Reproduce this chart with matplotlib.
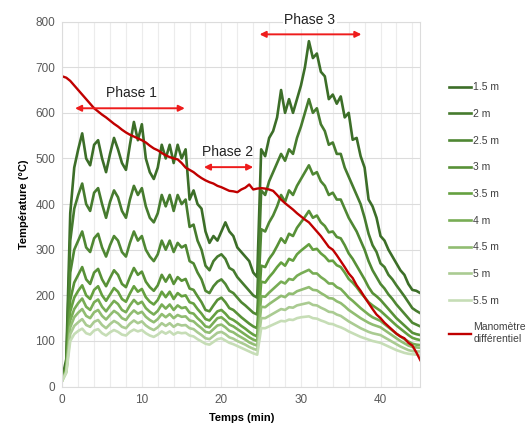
import numpy as np
import matplotlib.pyplot as plt
from matplotlib.ticker import MultipleLocator

plt.rcParams['font.family'] = ['Liberation Sans', 'DejaVu Sans']

# sampling grid of the readings (minutes)
time_min = np.arange(0, 45.5, 0.5)

# temperatures, one value every 0.5 min
temp_1_5m = [20, 60, 380, 480, 520, 555, 500, 485, 530, 540,
             500, 470, 510, 545, 520, 490, 475, 530, 580, 540,
             575, 500, 470, 455, 480, 530, 500, 530, 490, 530,
             500, 520, 410, 430, 400, 390, 340, 315, 330, 320,
             340, 360, 340, 330, 305, 295, 285, 275, 250, 240,
             520, 505, 545, 560, 590, 650, 600, 630, 600, 630,
             660, 700, 757, 720, 730, 690, 680, 630, 640, 620,
             636, 590, 600, 541, 545, 505, 480, 410, 395, 370,
             330, 320, 300, 285, 270, 255, 245, 225, 212, 210,
             205]
temp_2m = [18, 50, 320, 390, 420, 445, 400, 385, 425, 435,
           400, 370, 405, 430, 415, 385, 370, 410, 440, 420,
           435, 395, 370, 360, 380, 420, 395, 420, 385, 420,
           400, 410, 350, 355, 320, 300, 265, 255, 275, 285,
           290, 280, 260, 255, 240, 230, 220, 210, 200, 195,
           430, 420, 450, 470, 490, 510, 495, 520, 510, 545,
           570, 600, 630, 600, 610, 575, 560, 530, 535, 510,
           510, 480, 460, 440, 420, 400, 370, 335, 310, 295,
           270, 262, 245, 235, 222, 210, 198, 185, 172, 166,
           161]
temp_2_5m = [17, 45, 250, 300, 320, 340, 305, 295, 325, 335,
             305, 285, 310, 330, 320, 295, 285, 315, 340, 320,
             330, 300, 285, 275, 290, 320, 300, 320, 295, 315,
             305, 310, 275, 270, 250, 235, 210, 205, 220, 230,
             235, 225, 210, 205, 195, 185, 178, 170, 162, 158,
             345, 340, 360, 375, 395, 420, 405, 430, 420, 440,
             455, 470, 485, 465, 470, 450, 440, 420, 425, 410,
             410, 390, 370, 355, 340, 320, 300, 275, 255, 240,
             225, 215, 202, 192, 180, 170, 160, 150, 140, 136,
             132]
temp_3m = [16, 40, 190, 228, 245, 262, 235, 225, 250, 258,
           235, 220, 238, 255, 245, 225, 218, 240, 260, 245,
           252, 230, 218, 210, 222, 245, 230, 245, 225, 240,
           232, 236, 215, 212, 198, 185, 168, 165, 178, 190,
           195, 185, 172, 168, 160, 152, 145, 138, 132, 128,
           265, 262, 280, 292, 308, 325, 315, 335, 330, 348,
           360, 372, 385, 370, 375, 360, 352, 338, 340, 328,
           325, 310, 292, 280, 265, 250, 235, 218, 205, 198,
           190, 180, 170, 160, 150, 142, 134, 126, 118, 115,
           113]
temp_3_5m = [15, 38, 165, 195, 210, 222, 200, 192, 212, 220,
             200, 188, 202, 216, 208, 192, 186, 204, 220, 208,
             214, 196, 186, 180, 190, 208, 196, 208, 192, 205,
             198, 200, 185, 182, 170, 160, 148, 145, 155, 165,
             168, 160, 150, 146, 140, 133, 127, 120, 114, 110,
             230, 228, 240, 250, 262, 272, 265, 280, 276, 290,
             298, 305, 312, 300, 302, 292, 285, 275, 276, 266,
             262, 250, 236, 228, 218, 206, 196, 185, 178, 172,
             166, 158, 150, 142, 134, 127, 120, 113, 107, 104,
             102]
temp_4m = [15, 36, 145, 170, 183, 193, 175, 168, 185, 191,
           175, 165, 177, 188, 181, 168, 163, 178, 190, 181,
           186, 172, 164, 158, 166, 180, 171, 180, 168, 178,
           172, 174, 162, 160, 150, 142, 132, 130, 140, 150,
           152, 145, 136, 132, 126, 120, 114, 108, 103, 100,
           198, 197, 206, 214, 222, 230, 226, 236, 234, 243,
           248, 252, 256, 248, 248, 240, 234, 226, 226, 218,
           214, 205, 195, 188, 180, 172, 165, 158, 152, 148,
           144, 137, 130, 123, 116, 110, 104, 99, 94, 92,
           91]
temp_4_5m = [14, 34, 130, 152, 162, 170, 155, 150, 163, 168,
             155, 147, 157, 166, 160, 150, 146, 158, 167, 160,
             164, 153, 146, 141, 148, 159, 152, 159, 150, 157,
             153, 154, 145, 143, 135, 128, 120, 118, 126, 134,
             136, 130, 122, 119, 113, 108, 103, 97, 93, 90,
             175, 174, 181, 187, 193, 199, 196, 204, 203, 209,
             212, 215, 218, 212, 211, 205, 200, 194, 193, 187,
             183, 176, 168, 162, 156, 150, 145, 140, 136, 133,
             130, 124, 118, 112, 106, 100, 95, 90, 87, 86,
             85]
temp_5m = [14, 32, 115, 133, 141, 148, 135, 131, 142, 146,
           135, 128, 137, 144, 139, 131, 128, 138, 145, 139,
           143, 134, 128, 124, 130, 139, 133, 139, 131, 137,
           134, 135, 128, 126, 119, 113, 106, 104, 111, 118,
           120, 115, 108, 105, 100, 96, 92, 87, 83, 80,
           150, 150, 155, 160, 165, 170, 168, 174, 173, 178,
           180, 182, 184, 179, 178, 173, 169, 164, 163, 158,
           155, 149, 143, 138, 133, 128, 124, 120, 117, 115,
           113, 108, 103, 98, 93, 88, 84, 80, 78, 77,
           77]
temp_5_5m = [13, 30, 100, 115, 122, 127, 117, 114, 123, 126,
             117, 112, 119, 124, 120, 114, 112, 120, 125, 121,
             124, 117, 112, 109, 114, 121, 116, 121, 114, 119,
             117, 118, 112, 110, 104, 99, 94, 92, 98, 104,
             106, 101, 96, 93, 89, 85, 81, 77, 73, 70,
             128, 128, 132, 136, 140, 144, 143, 147, 146, 150,
             152, 153, 154, 150, 149, 145, 142, 138, 137, 133,
             130, 126, 121, 117, 113, 109, 106, 103, 100, 98,
             96, 92, 88, 84, 80, 77, 74, 72, 71, 70,
             70]
manometre = [680, 677, 670, 660, 650, 640, 630, 620, 610, 603,
             596, 590, 583, 576, 570, 563, 557, 552, 548, 544,
             540, 535, 528, 522, 518, 512, 507, 503, 500, 498,
             490, 480, 475, 470, 463, 457, 452, 448, 445, 440,
             437, 433, 429, 428, 426, 432, 436, 443, 432, 434,
             435, 434, 432, 429, 420, 410, 402, 395, 388, 380,
             373, 366, 360, 350, 340, 330, 318, 306, 300, 288,
             275, 262, 248, 238, 222, 210, 196, 183, 170, 158,
             150, 140, 132, 124, 116, 110, 106, 96, 90, 75,
             58]

depth_labels = ['1.5 m', '2 m', '2.5 m', '3 m', '3.5 m', '4 m', '4.5 m', '5 m', '5.5 m']
depth_series = [temp_1_5m, temp_2m, temp_2_5m, temp_3m, temp_3_5m,
                temp_4m, temp_4_5m, temp_5m, temp_5_5m]
green_colors = ['#3c6e28', '#467b2e', '#4f8733', '#589137', '#65a040',
                '#78ad55', '#91bd72', '#aacb92', '#c6ddb6']

# phase annotations: (label, start, end, arrow level, text x, text y)
phases = [('Phase 1', 1.6, 15.4, 610, 8.75, 643),
          ('Phase 2', 17.8, 24.0, 481, 20.8, 514),
          ('Phase 3', 24.8, 37.6, 772, 31.1, 803)]

for series in depth_series:
    assert len(series) == len(time_min)
assert len(manometre) == len(time_min)

fig = plt.figure(figsize=(5.28, 4.23), dpi=100)
ax = fig.add_axes([0.118, 0.086, 0.678, 0.863])

for label, series, color in zip(depth_labels, depth_series, green_colors):
    ax.plot(time_min, series, color=color, linewidth=1.9, label=label)
ax.plot(time_min, manometre, color='#c00000', linewidth=1.7,
        label='Manomètre\ndifférentiel')

for name, start, end, level, tx, ty in phases:
    ax.annotate('', xy=(end, level), xytext=(start, level),
                arrowprops=dict(arrowstyle='<|-|>', color='#ee1c1c', lw=1.4,
                                mutation_scale=9, shrinkA=0, shrinkB=0))
    ax.text(tx, ty, name, ha='center', va='center', fontsize=10, color='#222222',
            clip_on=False,
            bbox=dict(facecolor='white', edgecolor='none', pad=1) if name == 'Phase 3' else None)

ax.set_xlim(0, 45)
ax.set_ylim(0, 800)
ax.xaxis.set_major_locator(MultipleLocator(10))
ax.xaxis.set_minor_locator(MultipleLocator(2))
ax.yaxis.set_major_locator(MultipleLocator(100))
ax.grid(visible=True, axis='y', which='major', color='#dcdcdc', linewidth=0.8)
ax.grid(visible=True, axis='x', which='both', color='#ececec', linewidth=0.8)
ax.set_axisbelow(True)
ax.tick_params(axis='both', which='both', length=0, labelsize=8.5, labelcolor='#595959', pad=5)
for side in ['top', 'right', 'left', 'bottom']:
    ax.spines[side].set(color='#dcdcdc', linewidth=0.8)

ax.set_xlabel('Temps (min)', fontsize=8, fontweight='bold', labelpad=5)
ax.set_ylabel('Température (°C)', fontsize=8, fontweight='bold', labelpad=5)

ax.legend(loc='upper left', bbox_to_anchor=(0.843, 0.815), bbox_transform=fig.transFigure,
          frameon=False, fontsize=7.5, handlelength=2.1, handletextpad=0.2,
          labelspacing=1.6, borderaxespad=0, labelcolor='#404040')

fig.savefig('out.png', dpi=100)
